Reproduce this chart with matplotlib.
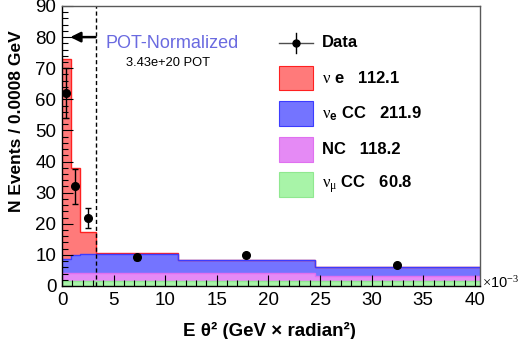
import numpy as np
import matplotlib
matplotlib.use("Agg")
import matplotlib.pyplot as plt
from matplotlib.patches import Rectangle
from matplotlib.ticker import MultipleLocator

plt.rcParams['font.family'] = ['Liberation Sans', 'DejaVu Sans']
plt.rcParams['mathtext.fontset'] = 'custom'
plt.rcParams['mathtext.rm'] = 'Liberation Serif'
plt.rcParams['mathtext.it'] = 'Liberation Serif:italic'
plt.rcParams['mathtext.bf'] = 'Liberation Sans:bold'

# bin edges in units of 1e-3 GeV rad^2
edges = np.array([0, 0.85, 1.7, 3.25, 11.25, 24.5, 40.5])

# stacked MC components (events per bin)
numu_cc = np.array([1.5, 1.5, 1.5, 1.5, 1.5, 1.5])
nc = np.array([2.7, 2.7, 2.8, 2.6, 2.6, 1.7])
nue_cc = np.array([4.6, 5.8, 6.0, 6.2, 4.3, 3.0])
nu_e = np.array([64.2, 28.0, 7.2, 0.2, 0.0, 0.0])

# data points
data_y = np.array([62.0, 32.0, 22.0, 9.2, 10.0, 6.8])
data_err = np.array([8.0, 5.6, 3.2, 0.8, 0.6, 0.4])

legend_labels = ["Data",
                 r"$\mathrm{\nu}$ e   112.1",
                 r"$\mathrm{\nu}_{\mathbf{e}}$ CC   211.9",
                 "NC   118.2",
                 r"$\mathrm{\nu}_{\mathrm{\mu}}$ CC   60.8"]

pot_cut = 3.25
colors = {'red': '#ff7a7a', 'blue': '#7474ff', 'mag': '#e58af5', 'green': '#a8f4a8'}
edgecols = {'red': '#ff2020', 'blue': '#3c3cff', 'mag': '#e070f0', 'green': '#90e890'}

fig = plt.figure(figsize=(5.19, 3.39), dpi=100)
ax = fig.add_axes([62 / 519, (339 - 286) / 339, 418 / 519, 280 / 339])

# cumulative stack: green, magenta, blue, red
b0 = np.zeros_like(numu_cc)
b1 = b0 + numu_cc
b2 = b1 + nc
b3 = b2 + nue_cc
b4 = b3 + nu_e
layers = [(b0, b1, 'green'), (b1, b2, 'mag'), (b2, b3, 'blue'), (b3, b4, 'red')]
for lo, hi, key in layers:
    ax.stairs(hi, edges, baseline=lo, fill=True, color=colors[key], lw=0, zorder=1)
# outlines, top layer first so lower ones win where a component is empty
for lo, hi, key in layers[::-1]:
    ax.stairs(hi, edges, baseline=None, color=edgecols[key], lw=1.0, zorder=1.5)

centers = 0.5 * (edges[:-1] + edges[1:])
ax.errorbar(centers, data_y, yerr=data_err, fmt='o', color='black', ms=5.5,
            elinewidth=1.0, capsize=2.5, capthick=1.0, zorder=5)

# POT normalization marker
ax.axvline(pot_cut, color='black', ls=(0, (3, 2)), lw=1.0, zorder=3)
ax.annotate("", xy=(0.8, 80), xytext=(pot_cut, 80),
            arrowprops=dict(arrowstyle="-|>,head_length=0.6,head_width=0.3",
                            color='black', lw=1.8, shrinkA=0, shrinkB=0), zorder=4)
ax.text(0.103, 0.865, "POT-Normalized", transform=ax.transAxes, fontsize=13,
        color='#6a6ae0', va='center', ha='left')
ax.text(0.152, 0.797, "3.43e+20 POT", transform=ax.transAxes, fontsize=9.3,
        color='black', va='center', ha='left')

# legend drawn by hand
tx = 0.622
ax.plot([0.519, 0.600], [0.868, 0.868], transform=ax.transAxes, color='0.3', lw=1.0)
ax.plot([0.5595, 0.5595], [0.832, 0.904], transform=ax.transAxes, color='black', lw=1.0)
ax.plot([0.5595], [0.868], 'o', transform=ax.transAxes, color='black', ms=5)
ax.text(tx, 0.868, legend_labels[0], transform=ax.transAxes, fontsize=12,
        fontweight='bold', va='center')
box_rows = [(0.743, 'red'), (0.616, 'blue'), (0.4875, 'mag'), (0.3625, 'green')]
for (yc, key), lab in zip(box_rows, legend_labels[1:]):
    ax.add_patch(Rectangle((0.519, yc - 0.044), 0.081, 0.088, transform=ax.transAxes,
                           facecolor=colors[key], edgecolor=edgecols[key], lw=0.8,
                           zorder=6))
    ax.text(tx, yc, lab, transform=ax.transAxes, fontsize=12, fontweight='bold',
            va='center', zorder=6)

ax.set_xlim(0, 40.5)
ax.set_ylim(0, 90)
ax.xaxis.set_major_locator(MultipleLocator(5))
ax.xaxis.set_minor_locator(MultipleLocator(1))
ax.yaxis.set_major_locator(MultipleLocator(10))
ax.yaxis.set_minor_locator(MultipleLocator(2))
ax.tick_params(which='both', direction='in', top=False, right=False,
               labelsize=13.5, width=0.8, color='black')
ax.tick_params(which='major', length=8, pad=4)
ax.tick_params(which='minor', length=4)
for side in ['left', 'bottom']:
    ax.spines[side].set_color('black')
for side in ['top', 'right']:
    ax.spines[side].set_color('0.35')
for sp in ax.spines.values():
    sp.set_linewidth(1.0)
    sp.set_zorder(7)

ax.set_xlabel("E θ² (GeV × radian²)", fontsize=13.5, fontweight='bold')
ax.xaxis.set_label_coords(0.497, -0.128)
fig.text(17 / 519, 1 - 121 / 339, "N Events / 0.0008 GeV", rotation=90,
         fontsize=12.5, fontweight='bold', ha='center', va='center')
ax.text(1.004, 0.012, r"$\times$10$^{-3}$", transform=ax.transAxes, fontsize=10.5,
        va='center', ha='left')

fig.savefig("out.png", dpi=100)
